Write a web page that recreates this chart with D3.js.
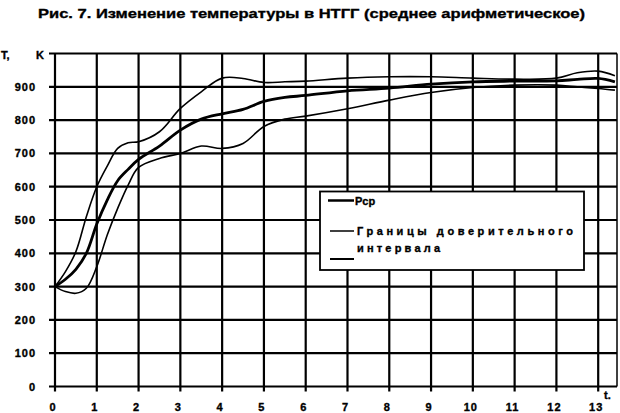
<!DOCTYPE html>
<html>
<head>
<meta charset="utf-8">
<script src="https://cdn.jsdelivr.net/npm/d3@7"></script>
<style>
  body { margin: 0; background: #fff; }
  svg { display: block; font-family: "Liberation Sans", Arial, sans-serif; }
  svg text { stroke: #000; stroke-width: 0.35px; }
</style>
</head>
<body>
<script>
// time points (t) and temperatures (K)
const times = [0, 0.25, 0.5, 0.75, 1, 1.25, 1.5, 1.75, 2, 2.5, 3, 3.5, 4, 4.5, 5, 5.5, 6, 7, 8, 9, 10, 11, 12, 12.5, 13, 13.4];
const upper = [300, 345, 405, 510, 600, 662, 715, 732, 735, 765, 835, 885, 926, 925, 913, 915, 917, 926, 930, 930, 926, 923, 926, 942, 947, 933];
const mean  = [300, 322, 352, 400, 488, 560, 618, 652, 682, 722, 770, 803, 819, 832, 856, 868, 874, 888, 896, 908, 915, 917, 918, 922, 925, 915];
const lower = [300, 285, 280, 295, 360, 455, 535, 605, 658, 685, 700, 722, 715, 730, 781, 803, 812, 834, 860, 883, 898, 905, 905, 900, 895, 890];

const xTicks = d3.range(0, 14);
const yTicks = d3.range(0, 1000, 100);

const width = 620, height = 413;
const x = d3.scaleLinear().domain([0, 13.45]).range([55, 617]);
const y = d3.scaleLinear().domain([0, 1000]).range([386.5, 53.5]);

const svg = d3.select("body").append("svg")
  .attr("width", width)
  .attr("height", height);

// Title
svg.append("text")
  .attr("x", 38).attr("y", 18)
  .attr("font-size", 13.5).attr("font-weight", "bold")
  .attr("textLength", 547).attr("lengthAdjust", "spacingAndGlyphs")
  .text("Рис. 7. Изменение температуры в НТГГ (среднее арифметическое)");

// Grid
const grid = svg.append("g").attr("stroke", "#000");
grid.selectAll("line.h")
  .data(yTicks.concat([1000]))
  .join("line")
  .attr("x1", x(0) - 6).attr("x2", x.range()[1])
  .attr("y1", d => y(d)).attr("y2", d => y(d))
  .attr("stroke-width", 2.2);
grid.selectAll("line.v")
  .data(xTicks)
  .join("line")
  .attr("x1", d => x(d)).attr("x2", d => x(d))
  .attr("y1", y(1000)).attr("y2", y(0) + 5)
  .attr("stroke-width", 2.2);
grid.append("line")
  .attr("x1", x.range()[1]).attr("x2", x.range()[1])
  .attr("y1", y(1000)).attr("y2", y(0))
  .attr("stroke-width", 1.5);

// Axis labels
svg.append("g")
  .attr("font-size", 11).attr("font-weight", "bold")
  .attr("text-anchor", "end")
  .selectAll("text")
  .data(yTicks)
  .join("text")
  .attr("x", 36)
  .attr("y", d => y(d) + 4)
  .attr("letter-spacing", 1)
  .text(d => d);

svg.append("g")
  .attr("font-size", 11).attr("font-weight", "bold")
  .attr("text-anchor", "middle")
  .selectAll("text")
  .data(xTicks)
  .join("text")
  .attr("x", d => x(d) - 2)
  .attr("y", 411)
  .attr("letter-spacing", 1)
  .text(d => d);

svg.append("text")
  .attr("x", 1).attr("y", 59)
  .attr("font-size", 11).attr("font-weight", "bold")
  .text("T,");
svg.append("text")
  .attr("x", 36).attr("y", 59)
  .attr("font-size", 11).attr("font-weight", "bold")
  .text("K");
svg.append("text")
  .attr("x", 604).attr("y", 399)
  .attr("font-size", 11).attr("font-weight", "bold")
  .text("t.");

// Curves
const line = d3.line()
  .x((d, i) => x(times[i]))
  .y(d => y(d))
  .curve(d3.curveCatmullRom.alpha(0.5));

const series = [
  { values: lower, width: 1.6 },
  { values: upper, width: 1.6 },
  { values: mean, width: 2.8 }
];
svg.append("g")
  .attr("fill", "none")
  .attr("stroke", "#000")
  .selectAll("path")
  .data(series)
  .join("path")
  .attr("stroke-width", d => d.width)
  .attr("d", d => line(d.values));

// Legend
const legend = svg.append("g");
legend.append("rect")
  .attr("x", 320).attr("y", 191.5)
  .attr("width", 264).attr("height", 78.5)
  .attr("fill", "#fff")
  .attr("stroke", "#000").attr("stroke-width", 1.8);

const legendLines = [
  { y: 200.5, w: 2.5, x1: 328 },
  { y: 231, w: 1.5, x1: 330 },
  { y: 259, w: 2, x1: 330 }
];
legend.selectAll("line")
  .data(legendLines)
  .join("line")
  .attr("x1", d => d.x1).attr("x2", 354)
  .attr("y1", d => d.y).attr("y2", d => d.y)
  .attr("stroke", "#000")
  .attr("stroke-width", d => d.w);

const legendText = [
  { text: "Рср", x: 355, y: 205, len: null },
  { text: "Границы доверительного", x: 357, y: 235, len: 216 },
  { text: "интервала", x: 357, y: 252, len: 83 }
];
legend.selectAll("text")
  .data(legendText)
  .join("text")
  .attr("x", d => d.x).attr("y", d => d.y)
  .attr("font-size", 11).attr("font-weight", "bold")
  .each(function (d) {
    if (d.len) d3.select(this).attr("textLength", d.len).attr("lengthAdjust", "spacing");
  })
  .text(d => d.text);
</script>
</body>
</html>
